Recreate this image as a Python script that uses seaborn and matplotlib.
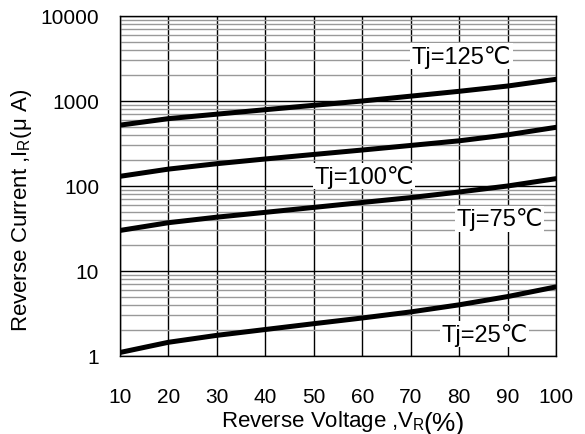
import numpy as np
import pandas as pd
import matplotlib
matplotlib.use("Agg")
import matplotlib.pyplot as plt
import seaborn as sns
from matplotlib.ticker import LogLocator, FixedLocator, NullFormatter

voltage = [10, 20, 30, 40, 50, 60, 70, 80, 90, 100]
i_125 = [520, 620, 700, 790, 890, 1000, 1140, 1300, 1500, 1800]
i_100 = [130, 158, 183, 208, 235, 265, 300, 340, 400, 490]
i_75 = [30, 37, 43, 49, 56, 64, 73, 85, 100, 122]
i_25 = [1.1, 1.45, 1.75, 2.05, 2.4, 2.8, 3.3, 4.0, 5.0, 6.5]

labels = ["Tj=125℃", "Tj=100℃", "Tj=75℃", "Tj=25℃"]
label_x = [80.5, 60.4, 88.4, 85.3]
label_y = [3350, 131, 41, 1.81]

df = pd.DataFrame({
    "V": voltage * 4,
    "I": i_125 + i_100 + i_75 + i_25,
    "T": sum([[l] * len(voltage) for l in labels], []),
})

sns.set_theme(style="white")
plt.rcParams['font.family'] = ['Liberation Sans', 'DejaVu Sans']
plt.rcParams['text.color'] = 'black'
plt.rcParams['axes.labelcolor'] = 'black'

fig = plt.figure(figsize=(5.85, 4.35), dpi=100)
ax = fig.add_axes([120 / 585, 1 - 357 / 435, 436 / 585, 340 / 435])

sns.lineplot(data=df, x="V", y="I", units="T", estimator=None,
             color="black", linewidth=3.6, ax=ax, zorder=3)
ax.set_yscale("log")
ax.set_xlim(10, 100)
ax.set_ylim(1, 10000)

ax.xaxis.set_major_locator(FixedLocator(voltage))
ax.yaxis.set_major_locator(FixedLocator([1, 10, 100, 1000, 10000]))
ax.set_yticklabels(["1", "10", "100", "1000", "10000"])
ax.yaxis.set_minor_locator(LogLocator(base=10, subs=np.arange(2, 10)))
ax.yaxis.set_minor_formatter(NullFormatter())

ax.grid(True, which="major", axis="both", color="black", linewidth=1.0, zorder=1)
ax.grid(True, which="minor", axis="y", color="#999999", linewidth=1.0, zorder=1)
ax.set_axisbelow(True)

for s in ax.spines.values():
    s.set_color("black")
    s.set_linewidth(1.0)

ax.tick_params(axis="both", which="both", length=0, labelsize=15, colors="black")
ax.tick_params(axis="x", pad=22)
ax.tick_params(axis="y", pad=15)

for t, x, y in zip(labels, label_x, label_y):
    ax.text(x, y, t, fontsize=17, ha="center", va="center", zorder=4,
            bbox=dict(facecolor="white", edgecolor="none", pad=1.0))

xl = ax.set_xlabel("Reverse Voltage ,V$_\\mathregular{R}$", fontsize=16)
ax.xaxis.set_label_coords(0.465, -0.152)
ax.annotate("(%)", xy=(1, 0), xycoords=xl, xytext=(-1, -2), textcoords="offset points",
            fontsize=19, ha="left", va="bottom")
ax.set_ylabel("Reverse Current ,I$_\\mathregular{R}$(μ A)", fontsize=16)
ax.yaxis.set_label_coords(-0.198, 0.43)

fig.savefig("out.png", dpi=100)
